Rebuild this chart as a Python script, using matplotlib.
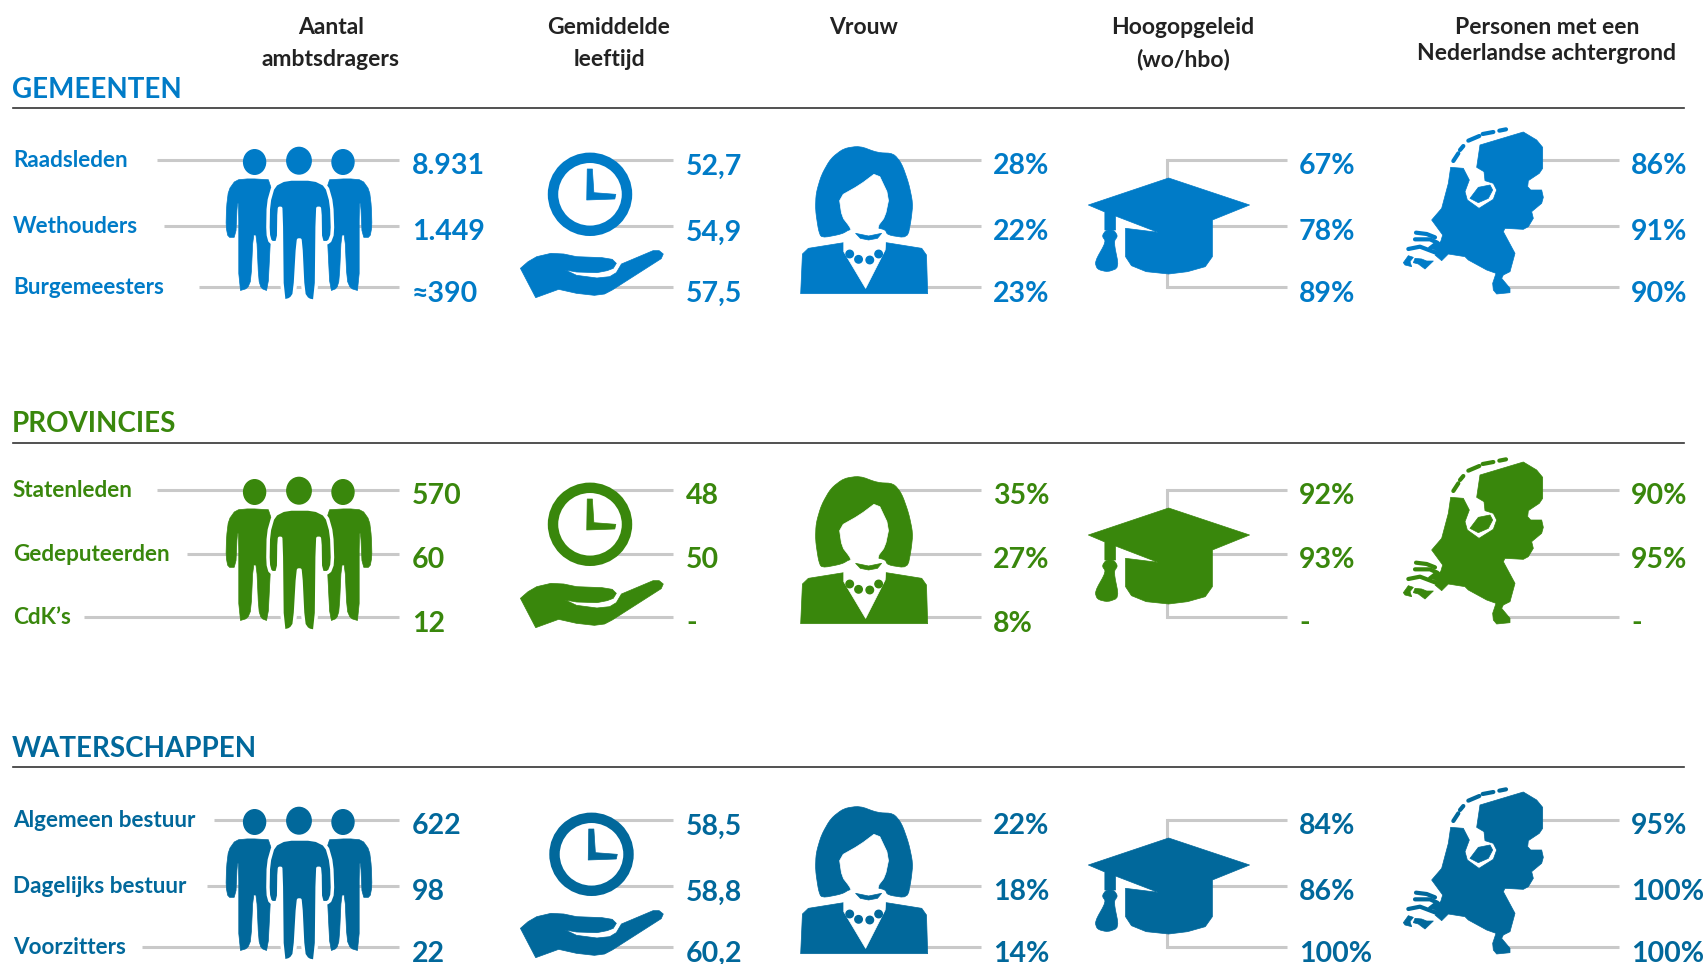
#!/usr/bin/env python3

import matplotlib
matplotlib.use("Agg")
import matplotlib.pyplot as plt
from matplotlib.patches import Ellipse, Polygon

plt.rcParams['font.family'] = ['Lato', 'DejaVu Sans']
plt.rcParams['font.weight'] = 'bold'

# the chart's values
col_headers = [["Aantal", "ambtsdragers"], ["Gemiddelde", "leeftijd"], ["Vrouw"],
               ["Hoogopgeleid", "(wo/hbo)"], ["Personen met een", "Nederlandse achtergrond"]]

groups = ["GEMEENTEN", "PROVINCIES", "WATERSCHAPPEN"]
group_colors = ["#007BC7", "#39870C", "#01689B"]

gemeenten_labels = ["Raadsleden", "Wethouders", "Burgemeesters"]
provincies_labels = ["Statenleden", "Gedeputeerden", "CdK’s"]
waterschappen_labels = ["Algemeen bestuur", "Dagelijks bestuur", "Voorzitters"]

ambtsdragers = [["8.931", "1.449", "≈390"], ["570", "60", "12"], ["622", "98", "22"]]
leeftijd = [["52,7", "54,9", "57,5"], ["48", "50", "-"], ["58,5", "58,8", "60,2"]]
vrouw = [["28%", "22%", "23%"], ["35%", "27%", "8%"], ["22%", "18%", "14%"]]
hoogopgeleid = [["67%", "78%", "89%"], ["92%", "93%", "-"], ["84%", "86%", "100%"]]
achtergrond = [["86%", "91%", "90%"], ["90%", "95%", "-"], ["95%", "100%", "100%"]]

labels = [gemeenten_labels, provincies_labels, waterschappen_labels]
columns = [ambtsdragers, leeftijd, vrouw, hoogopgeleid, achtergrond]

# layout, in pixels of the 1706x964 picture
header_x = [331, 609, 864, 1183, 1547]
value_x = [412, 686, 993, 1299, 1631]
line_end = [399, 673, 981, 1287, 1619]
line_start = [None, 590, 890, 1167.5, 1500]
label_line_start = [[157, 164, 199], [157, 187, 84], [214, 207, 142]]
row_shift = [0, 330, 660]
rule_y = [108, 443, 767]
title_y = [98, 432, 757]
line_y = [[160, 226, 287], [490, 554, 617], [820, 886, 947]]
GREY = "#c9c9c9"

fig = plt.figure(figsize=(17.06, 9.64), dpi=100)
ax = fig.add_axes([0, 0, 1, 1])
ax.set_xlim(0, 1706)
ax.set_ylim(964, 0)
ax.axis('off')


def zoom_a(pts):
    return [(x / 1.96, y / 3) for x, y in pts]


def zoom_b(pts):
    return [(780 + x / 1.693, y / 3) for x, y in pts]


def zoom_c(pts):
    return [(1380 + x / 3, 110 + y / 3) for x, y in pts]


def round_off(pts, times=2):
    # corner cutting, the icons have soft outlines
    for _ in range(times):
        new = []
        for i in range(len(pts)):
            x1, y1 = pts[i]
            x2, y2 = pts[(i + 1) % len(pts)]
            new.append((0.8 * x1 + 0.2 * x2, 0.8 * y1 + 0.2 * y2))
            new.append((0.2 * x1 + 0.8 * x2, 0.2 * y1 + 0.8 * y2))
        pts = new
    return pts


def shape(pts, dy, color, dx=0, **kw):
    moved = [(x + dx, y + dy) for x, y in pts]
    kw.setdefault('zorder', 3)
    ax.add_patch(Polygon(moved, closed=True, facecolor=color, edgecolor=color,
                         linewidth=0.5, joinstyle='round', **kw))


def people(dy, color):
    for cx, cy, rx, ry in [(254.6, 162, 11, 12.3), (343, 162, 11, 12.3), (299, 160.7, 12.2, 13.3)]:
        ax.add_patch(Ellipse((cx, cy + dy), rx * 2, ry * 2, color=color, zorder=3))
    left = [(535, 540), (490, 536), (462, 540), (448, 570), (444, 620), (443, 680), (447, 712),
            (462, 712), (465, 610), (468, 610), (468, 873), (485, 865), (492, 840), (496, 705),
            (503, 705), (507, 840), (512, 865), (525, 873), (530, 720)]
    right = [(1172 - x, y) for x, y in left]
    shape(round_off(zoom_a(left), 1), dy, color)
    shape(round_off(zoom_a(right), 1), dy, color)
    center = [(560, 537), (615, 537), (640, 556), (650, 610), (652, 700), (645, 728), (628, 728),
              (627, 625), (622, 625), (620, 905), (603, 900), (594, 880), (589, 720), (584, 720),
              (578, 880), (570, 898), (553, 905), (551, 625), (547, 625), (546, 728), (530, 728),
              (525, 700), (526, 610), (536, 556)]
    ax.add_patch(Polygon([(x, y + dy) for x, y in round_off(zoom_a(center), 1)], closed=True,
                         facecolor=color, edgecolor='white', linewidth=2.5, joinstyle='round', zorder=4))


def clock(dy, color, dx=0):
    ax.add_patch(Ellipse((590 + dx, 194.3 + dy), 74, 73, facecolor='white', edgecolor=color,
                         linewidth=7.5, zorder=3))
    hands = [(1151, 507), (1161, 507), (1164, 578), (1207, 583), (1205, 597), (1150, 600)]
    shape(zoom_a(hands), dy, color, dx=dx)
    hand = [(1020, 805), (1035, 785), (1052, 770), (1080, 760), (1105, 762), (1130, 770), (1180, 773),
            (1200, 778), (1208, 790), (1202, 805), (1190, 812), (1170, 818), (1130, 816), (1108, 810),
            (1130, 826), (1170, 834), (1195, 830), (1208, 818), (1218, 792), (1280, 752), (1292, 752),
            (1300, 762), (1296, 776), (1200, 870), (1185, 882), (1165, 886), (1130, 880), (1095, 868),
            (1050, 893)]
    shape(zoom_a(hand), dy, color)


def woman(dy, color):
    body = [(35, 881), (38, 762), (48, 745), (108, 728), (180, 728), (240, 745), (248, 765), (250, 881)]
    shape(zoom_b(body), dy, color)
    vee = [(108, 700), (108, 755), (145, 865), (178, 750), (180, 700)]
    shape(zoom_b(vee), dy, 'white')
    for x, y in [(118, 762), (133, 778), (152, 780), (167, 762)]:
        (px, py), = zoom_b([(x, y)])
        ax.add_patch(Ellipse((px, py + dy), 7.5, 7.5, color=color, zorder=3))
    hair = [(135, 438), (108, 445), (86, 475), (70, 525), (61, 580), (60, 630), (65, 690), (70, 714),
            (105, 702), (118, 688), (150, 680), (178, 688), (182, 705), (216, 714), (222, 660),
            (225, 610), (218, 550), (206, 490), (192, 460), (165, 458)]
    shape(round_off(zoom_b(hair), 2), dy, color)
    face = [(100, 590), (135, 555), (165, 515), (185, 590), (178, 650), (165, 680), (170, 702),
            (150, 708), (130, 702), (120, 690), (118, 680), (105, 650)]
    shape(round_off(zoom_b(face), 1), dy, 'white')
    neck = [(128, 700), (150, 708), (172, 700), (165, 715), (150, 720), (136, 715)]
    shape(zoom_b(neck), dy, color)


def cap(dy, color):
    hat = [(522, 615), (658, 534), (795, 615), (732, 660), (732, 770), (720, 800), (690, 815),
           (658, 822), (620, 815), (595, 797), (585, 770), (585, 685), (640, 697), (568, 648),
           (568, 690), (550, 690), (550, 636)]
    shape(zoom_b(hat), dy, color)
    tassel = [(552, 690), (545, 708), (552, 725), (533, 785), (537, 808), (555, 816), (574, 803),
              (565, 725), (572, 708), (565, 690)]
    shape(round_off(zoom_b(tassel), 2), dy, color)


def dutch_map(dy, color):
    land = [(430, 66), (470, 90), (488, 112), (488, 175), (478, 190), (445, 212), (443, 230),
            (452, 240), (485, 240), (490, 262), (485, 280), (455, 305), (460, 325), (445, 350),
            (430, 358), (375, 355), (370, 365), (405, 430), (390, 485), (370, 495), (365, 505),
            (390, 535), (390, 548), (350, 552), (340, 540), (338, 520), (348, 490), (320, 480),
            (265, 450), (255, 440), (205, 432), (185, 452), (165, 435), (178, 428), (150, 412),
            (182, 395), (188, 375), (155, 330), (185, 295), (205, 220), (212, 172), (250, 175),
            (268, 210), (255, 245), (262, 270), (297, 295), (340, 268), (350, 240), (340, 220),
            (315, 212), (312, 185), (290, 172), (300, 105)]
    shape(zoom_c(land), dy, color)
    flevo = [(270, 265), (295, 232), (330, 225), (338, 240), (325, 265), (295, 278)]
    shape(zoom_c(flevo), dy, color)
    islands = [[(70, 458), (85, 437), (100, 442), (90, 455), (95, 470), (75, 465)],
               [(105, 445), (125, 447), (140, 453), (160, 453), (135, 477), (115, 462), (100, 458)]]
    for piece in islands:
        shape(zoom_c(piece), dy, color)
    wadden = [[(220, 153), (235, 130)], [(240, 120), (250, 108)], [(265, 92), (298, 78)],
              [(308, 72), (340, 66)], [(358, 62), (378, 58)]]
    zeeland = [[(108, 368), (140, 372), (165, 382)], [(105, 388), (150, 388), (172, 398), (150, 415)],
               [(85, 417), (120, 410), (178, 432)]]
    for piece in wadden + zeeland:
        xs, ys = zip(*zoom_c(piece))
        ax.plot(xs, [y + dy for y in ys], color=color, lw=3.0, solid_capstyle='round', zorder=3)


# column headers
for i, lines in enumerate(col_headers):
    ys = [33.5, 66] if i != 4 else [33.5, 60.5]
    for text, y in zip(lines, ys):
        ax.text(header_x[i], y, text, ha='center', va='baseline', fontsize=16.5, color='#222222')

for g, name in enumerate(groups):
    color = group_colors[g]
    dy = row_shift[g]
    ax.text(12, title_y[g], name, ha='left', va='baseline', fontsize=20, color=color)
    ax.plot([13, 1684], [rule_y[g], rule_y[g]], color='#333333', lw=1.2, zorder=1)

    for r, y in enumerate(line_y[g]):
        ax.text(13, y + 7, labels[g][r], ha='left', va='baseline', fontsize=16.2, color=color)
        ax.plot([label_line_start[g][r], line_end[0]], [y, y], color=GREY, lw=2.2,
                solid_capstyle='butt', zorder=1)
        for c in range(5):
            ax.text(value_x[c], y + 14.5, columns[c][g][r], ha='left', va='baseline',
                    fontsize=20.5, color=color)
            if c > 0:
                ax.plot([line_start[c], line_end[c]], [y, y], color=GREY, lw=2.2,
                        solid_capstyle='butt', zorder=1)
    # bracket of the hoogopgeleid column
    ax.plot([line_start[3], line_start[3]], [line_y[g][0], line_y[g][2]], color=GREY, lw=2.2, zorder=1)

    people(dy, color)
    clock(dy, color, dx=1.5 if g == 2 else 0)
    woman(dy, color)
    cap(dy, color)
    dutch_map(dy, color)

fig.savefig('out.png', dpi=100)
